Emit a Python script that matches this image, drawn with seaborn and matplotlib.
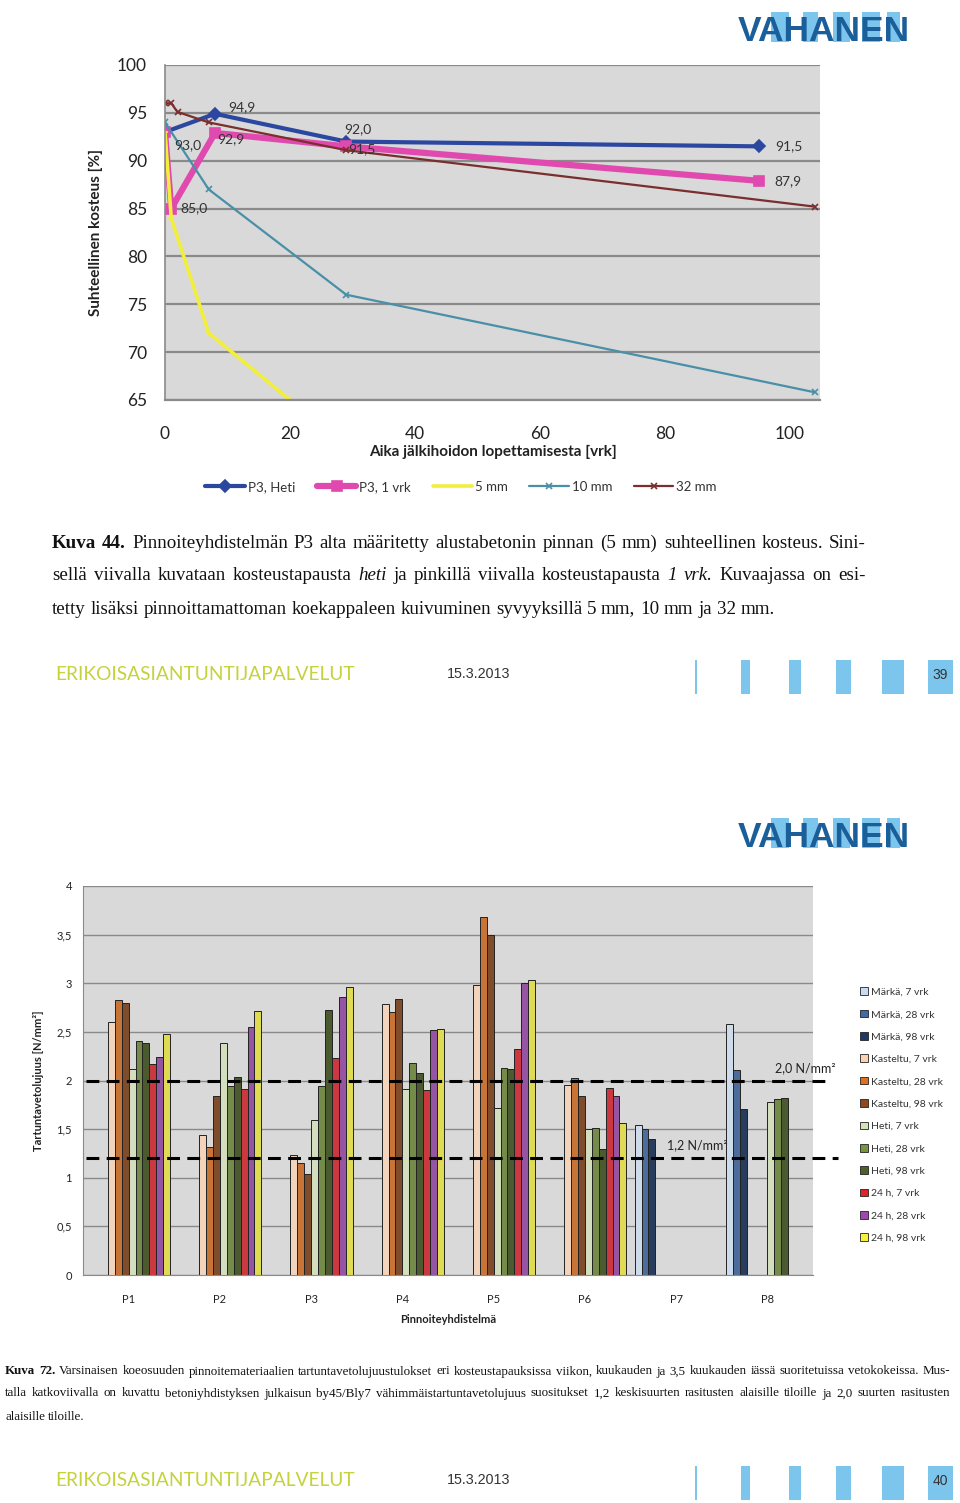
import numpy as np
import pandas as pd
import matplotlib
matplotlib.use("Agg")
import matplotlib.pyplot as plt
import seaborn as sns
from matplotlib.patches import Patch, Rectangle

W, H = 960, 1503

# ---- Kuva 44: suhteellinen kosteus ----
heti_x = [0, 8, 29, 95]
heti_y = [93.0, 94.9, 92.0, 91.5]
vrk1_x = [0, 1, 8, 29, 95]
vrk1_y = [93.0, 85.0, 92.9, 91.5, 87.9]
mm5_x = [0, 1, 7, 20]
mm5_y = [93.0, 84.0, 72.0, 65.0]
mm10_x = [0, 7, 29, 104]
mm10_y = [94.0, 87.0, 76.0, 65.8]
mm32_x = [0, 1, 2, 7, 29, 104]
mm32_y = [96.0, 96.0, 95.1, 94.0, 91.1, 85.2]

line_labels = ["P3, Heti", "P3, 1 vrk", "5 mm", "10 mm", "32 mm"]

# ---- Kuva 72: tartuntavetolujuus ----
groups = ["P1", "P2", "P3", "P4", "P5", "P6", "P7", "P8"]
series = ["Märkä, 7 vrk", "Märkä, 28 vrk", "Märkä, 98 vrk",
          "Kasteltu, 7 vrk", "Kasteltu, 28 vrk", "Kasteltu, 98 vrk",
          "Heti, 7 vrk", "Heti, 28 vrk", "Heti, 98 vrk",
          "24 h, 7 vrk", "24 h, 28 vrk", "24 h, 98 vrk"]
nan = np.nan
markae_7 = [nan, nan, nan, nan, nan, nan, 1.54, 2.58]
markae_28 = [nan, nan, nan, nan, nan, nan, 1.50, 2.11]
markae_98 = [nan, nan, nan, nan, nan, nan, 1.40, 1.71]
kast_7 = [2.60, 1.44, 1.23, 2.79, 2.98, 1.95, nan, nan]
kast_28 = [2.83, 1.32, 1.15, 2.70, 3.68, 2.03, nan, nan]
kast_98 = [2.80, 1.84, 1.04, 2.84, 3.50, 1.84, nan, nan]
heti_7 = [2.12, 2.39, 1.59, 1.91, 1.72, 1.50, nan, 1.78]
heti_28 = [2.41, 1.94, 1.94, 2.18, 2.13, 1.51, nan, 1.81]
heti_98 = [2.39, 2.04, 2.72, 2.08, 2.12, 1.30, nan, 1.82]
h24_7 = [2.17, 1.91, 2.23, 1.90, 2.32, 1.92, nan, nan]
h24_28 = [2.24, 2.55, 2.86, 2.52, 3.00, 1.84, nan, nan]
h24_98 = [2.48, 2.71, 2.96, 2.53, 3.03, 1.56, nan, nan]
bar_values = [markae_7, markae_28, markae_98, kast_7, kast_28, kast_98,
              heti_7, heti_28, heti_98, h24_7, h24_28, h24_98]
bar_colors = ["#C9DAF0", "#3F6BA8", "#1F3A66",
              "#FBD3B4", "#E0701E", "#8E4A1E",
              "#D3E3B8", "#79963E", "#4D6128",
              "#E4202A", "#9E48B0", "#F6F23A"]
limits = [2.0, 1.2]

sns.set_style("white")
plt.rcParams["font.family"] = ["Lato", "DejaVu Sans"]

fig = plt.figure(figsize=(W / 100, H / 100), dpi=100)


def fx(px):
    return px / W


def fy(py):
    return 1 - py / H


# ------------------------------------------------------------ line chart
ax1 = fig.add_axes([fx(165), fy(400), fx(820) - fx(165), (400 - 65) / H])
ax1.set_facecolor("#D9D9D9")
styles = [
    (heti_x, heti_y, "#2B47A0", 3.0, "D", 6.5),
    (vrk1_x, vrk1_y, "#E04AAE", 4.5, "s", 7.5),
    (mm5_x, mm5_y, "#F2EE3C", 2.6, "_", 5),
    (mm10_x, mm10_y, "#4A8FA8", 1.6, "x", 4),
    (mm32_x, mm32_y, "#7A2E2E", 1.6, "x", 4.5),
]
for (xs, ys, col, lw, mk, ms), lab in zip(styles, line_labels):
    sns.lineplot(x=xs, y=ys, ax=ax1, color=col, linewidth=lw, marker=mk,
                 markersize=ms, markeredgecolor=col, markeredgewidth=1.2,
                 sort=False, estimator=None, label=lab, clip_on=True)
ax1.get_legend().remove()
ax1.set_xlim(0, 104.8)
ax1.set_ylim(65, 100)
ax1.set_yticks(range(65, 101, 5))
ax1.set_xticks(range(0, 101, 20))
ax1.grid(axis="y", color="#8A8A8A", linewidth=1.6)
ax1.set_axisbelow(True)
for s in ["top", "right"]:
    ax1.spines[s].set_visible(False)
ax1.spines["left"].set_color("#8A8A8A")
ax1.spines["bottom"].set_color("#8A8A8A")
ax1.spines["left"].set_linewidth(1.2)
ax1.spines["bottom"].set_linewidth(1.6)
ax1.tick_params(axis="both", length=5, color="#8A8A8A", labelsize=12.5,
                labelcolor="#222222")
ax1.tick_params(axis="x", pad=14)
ax1.tick_params(axis="y", pad=8)
ax1.set_xlabel("Aika jälkihoidon lopettamisesta [vrk]", fontsize=11,
               fontweight="bold", color="#222222", labelpad=2)
ax1.set_ylabel("Suhteellinen kosteus [%]", fontsize=11, fontweight="bold",
               color="#222222", labelpad=10)

point_labels = [
    (heti_x[1], heti_y[1], 13, 7),
    (heti_x[0], heti_y[0], 9, -13),
    (heti_x[2], heti_y[2], -2, 12),
    (heti_x[3], heti_y[3], 16, 0),
    (vrk1_x[2], vrk1_y[2], 2, -6),
    (vrk1_x[1], vrk1_y[1], 9, 0),
    (vrk1_x[3], vrk1_y[3], 2, -3),
    (vrk1_x[4], vrk1_y[4], 16, 0),
]
for x, y, dx, dy in point_labels:
    ax1.annotate(f"{y:.1f}".replace(".", ","), (x, y),
                 xytext=(dx * 0.72, dy * 0.72), textcoords="offset points",
                 ha="left", va="center", fontsize=10, color="#333333")

h1, l1 = ax1.get_legend_handles_labels()
fig.legend(h1, l1, loc="center", bbox_to_anchor=(fx(461), fy(487)), ncol=5,
           frameon=False, fontsize=9.5, handlelength=3.0, columnspacing=1.65,
           handletextpad=0.2, labelcolor="#333333")

# ------------------------------------------------------------ bar chart
ax2 = fig.add_axes([fx(83), fy(1275), fx(813) - fx(83), (1275 - 886) / H])
ax2.set_facecolor("#D9D9D9")
rows = []
for s, vals in zip(series, bar_values):
    for g, v in zip(groups, vals):
        if not np.isnan(v):
            rows.append((g, s, v))
df = pd.DataFrame(rows, columns=["group", "series", "value"])
sns.barplot(data=df, x="group", y="value", hue="series", order=groups,
            hue_order=series, palette=bar_colors, width=0.91, gap=0,
            errorbar=None, edgecolor="#222222", linewidth=0.7, legend=False,
            ax=ax2)
ax2.set_xlim(-0.5, 7.5)
ax2.set_ylim(0, 4)
ax2.set_yticks(np.arange(0, 4.01, 0.5))
ax2.set_yticklabels(["0", "0,5", "1", "1,5", "2", "2,5", "3", "3,5", "4"])
ax2.grid(axis="y", color="#8A8A8A", linewidth=1.0)
ax2.set_axisbelow(True)
for s in ["top", "right"]:
    ax2.spines[s].set_visible(False)
ax2.spines["left"].set_color("#8A8A8A")
ax2.spines["bottom"].set_color("#8A8A8A")
ax2.set_xticks(np.arange(-0.5, 7.6, 1), minor=True)
ax2.tick_params(axis="x", which="major", length=0, pad=14, labelsize=8,
                labelcolor="#222222")
ax2.tick_params(axis="x", which="minor", length=4, color="#8A8A8A")
ax2.tick_params(axis="y", length=4, color="#8A8A8A", labelsize=8,
                labelcolor="#222222", pad=4)
ax2.set_xlabel("Pinnoiteyhdistelmä", fontsize=8, fontweight="bold",
               color="#222222", labelpad=6)
ax2.set_ylabel("Tartuntavetolujuus [N/mm²]", fontsize=8, fontweight="bold",
               color="#222222", labelpad=9)
for lim, xend in zip(limits, [7.71, 7.77]):
    ax2.plot([-0.47, xend], [lim, lim], color="black", linewidth=2.2,
             dashes=(4.2, 2.4), clip_on=False, zorder=5)
ax2.text(7.08, 2.0 + 0.07, "2,0 N/mm²", fontsize=9, color="#222222",
         ha="left", va="bottom")
ax2.text(5.9, 1.2 + 0.07, "1,2 N/mm²", fontsize=9, color="#222222",
         ha="left", va="bottom")

handles = [Patch(facecolor=c, edgecolor="#222222", linewidth=0.6)
           for c in bar_colors]
fig.legend(handles, series, loc="upper left",
           bbox_to_anchor=(fx(851), fy(978)), frameon=False, fontsize=7.5,
           handlelength=0.75, handleheight=0.75, handletextpad=0.25,
           labelspacing=1.24, labelcolor="#333333")


# ------------------------------------------------------------ page furniture
def logo(top):
    blue_blocks = [(771, 789), (803, 818), (833, 850), (862, 880), (887, 900)]
    for a, b in blue_blocks:
        fig.add_artist(Rectangle((fx(a), fy(top + 30)), fx(b) - fx(a), 30 / H,
                                 transform=fig.transFigure,
                                 facecolor="#7CC6EE", edgecolor="none"))
    fig.text(fx(738), fy(top + 29), "VAHANEN", fontsize=25.5,
             fontweight="bold", color="#1A5E9A", ha="left", va="baseline",
             family=["Liberation Sans"])


def footer(yc, page):
    fig.text(fx(55), fy(yc), "ERIKOISASIANTUNTIJAPALVELUT", fontsize=13.8,
             color="#C5D23C", ha="left", va="center", family=["Lato"])
    fig.text(fx(447), fy(yc - 1), "15.3.2013", fontsize=10.3, color="#333333",
             ha="left", va="center", family=["Liberation Sans"])
    top = yc - 15
    fig.add_artist(Rectangle((fx(695), fy(top + 34)), fx(2), 34 / H,
                             transform=fig.transFigure, facecolor="#7CC6EE",
                             edgecolor="none"))
    for a, b in [(741, 750), (789, 801), (836, 851), (882, 904), (928, 953)]:
        fig.add_artist(Rectangle((fx(a), fy(top + 34)), fx(b) - fx(a), 34 / H,
                                 transform=fig.transFigure,
                                 facecolor="#7CC6EE", edgecolor="none"))
    fig.text(fx(940.5), fy(yc), page, fontsize=10, color="#333333",
             ha="center", va="center", family=["Liberation Sans"])


logo(12)
logo(818)
footer(675, "39")
footer(1481, "40")

renderer = fig.canvas.get_renderer()


def para_line(text, x0, y, size, width=None):
    arts = []
    for w in text.split(" "):
        weight, style = "normal", "normal"
        if w.startswith("**"):
            w, weight = w.strip("*"), "bold"
        elif w.startswith("*"):
            w, style = w.strip("*"), "italic"
        t = fig.text(0, fy(y), w, fontsize=size, fontweight=weight,
                     fontstyle=style, color="#111111", ha="left",
                     va="center_baseline", family=["Liberation Serif"])
        arts.append(t)
    widths = [t.get_window_extent(renderer).width for t in arts]
    if width is not None and len(arts) > 1:
        gap = (width - sum(widths)) / (len(arts) - 1)
    else:
        gap = 0.25 * size * 100 / 72
    x = x0
    for t, wd in zip(arts, widths):
        t.set_x(fx(x))
        x += wd + gap


cap44 = [
    "**Kuva** **44.** Pinnoiteyhdistelmän P3 alta määritetty alustabetonin pinnan (5 mm) suhteellinen kosteus. Sini-",
    "sellä viivalla kuvataan kosteustapausta *heti* ja pinkillä viivalla kosteustapausta *1* *vrk.* Kuvaajassa on esi-",
    "tetty lisäksi pinnoittamattoman koekappaleen kuivuminen syvyyksillä 5 mm, 10 mm ja 32 mm.",
]
para_line(cap44[0], 52, 541, 13.7, 866 - 52)
para_line(cap44[1], 52, 574, 13.7, 866 - 52)
para_line(cap44[2], 52, 607, 13.7)

cap72 = [
    "**Kuva** **72.** Varsinaisen koeosuuden pinnoitemateriaalien tartuntavetolujuustulokset eri kosteustapauksissa viikon, kuukauden ja 3,5 kuukauden iässä suoritetuissa vetokokeissa. Mus-",
    "talla katkoviivalla on kuvattu betoniyhdistyksen julkaisun by45/Bly7 vähimmäistartuntavetolujuus suositukset 1,2 keskisuurten rasitusten alaisille tiloille ja 2,0 suurten rasitusten",
    "alaisille tiloille.",
]
para_line(cap72[0], 5, 1370, 9.4, 950 - 5)
para_line(cap72[1], 5, 1392, 9.4, 950 - 5)
para_line(cap72[2], 5, 1415, 9.4)

fig.savefig("out.png", dpi=100, facecolor="white")
